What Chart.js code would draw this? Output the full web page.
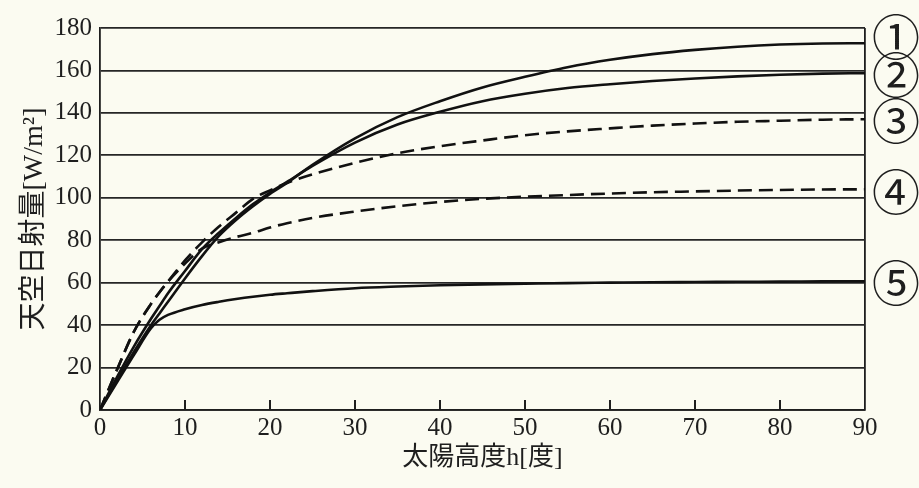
<!DOCTYPE html>
<html>
<head>
<meta charset="utf-8">
<script src="https://cdn.jsdelivr.net/npm/chart.js@4"></script>
<style>
  html, body { margin: 0; padding: 0; background: #fbfbf1; }
  #wrap { width: 919px; height: 488px; position: relative; }
</style>
</head>
<body>
<div id="wrap"><canvas id="sky-chart"></canvas></div>
<script>
// 太陽高度 [度]
var altitude = [0, 2, 4, 6, 7, 8, 10, 12, 14, 16, 18, 20, 22, 25, 30, 35, 40, 45, 50, 55, 60, 65, 70, 75, 80, 85, 90];

// 天空日射量 [W/m2]
var curve1 = [0, 14, 27.5, 40, 45.5, 51, 62, 72.5, 82, 89.5, 96, 101.8, 107, 115.5, 128, 138, 145.5, 152, 157, 161.5, 165, 167.7, 169.7, 171.2, 172.2, 172.7, 172.8];
var curve2 = [0, 15.5, 30, 43, 49, 55, 65.5, 75.8, 83.5, 90.5, 97, 102.5, 107.5, 115, 126, 134.5, 140.5, 145.5, 149, 151.7, 153.5, 155, 156.2, 157.2, 158, 158.5, 158.7];
var curve3 = [0, 19, 37, 50, 55.5, 60.5, 70.5, 79, 86.5, 93, 99.5, 103.5, 107, 111, 116.5, 121, 124.3, 127, 129.5, 131.3, 132.7, 134, 135, 135.8, 136.3, 136.8, 137];
var curve4 = [0, 19, 37, 50, 55.5, 60.5, 69, 76, 79, 81.5, 83.5, 86, 88, 90.5, 93.5, 96, 98, 99.5, 100.5, 101.3, 102, 102.6, 103, 103.4, 103.7, 103.9, 104];
var curve5 = [0, 13, 26, 38.5, 42.5, 44.8, 47.5, 49.5, 51, 52.3, 53.4, 54.3, 55, 56, 57.4, 58.2, 58.8, 59.2, 59.5, 59.8, 60, 60.2, 60.3, 60.4, 60.5, 60.6, 60.7];

// 曲線の番号
var curveNames = ['①', '②', '③', '④', '⑤'];
var xTicks = [0, 10, 20, 30, 40, 50, 60, 70, 80, 90];
var yTicks = [0, 20, 40, 60, 80, 100, 120, 140, 160, 180];

var ink = '#1e1e1e';
var serif = '"Liberation Serif", "Noto Sans CJK JP", serif';

var toPoints = function(values) {
    return values.map(function(v, i) { return { x: altitude[i], y: v }; });
};

var series = [curve1, curve2, curve3, curve4, curve5];
var dashed = [false, false, true, true, false];

var dataSet = [];
for (var i = 0; i < series.length; i++) {
    dataSet.push({
        label: curveNames[i],
        data: toPoints(series[i]),
        borderColor: '#111',
        borderWidth: 2.6,
        borderDash: dashed[i] ? [14, 7] : [],
        pointRadius: 0,
        fill: false,
        cubicInterpolationMode: 'monotone'
    });
}

// 背景
var paper = {
    id: 'paper',
    beforeDraw: function(chart) {
        var ctx = chart.ctx;
        ctx.save();
        ctx.fillStyle = '#fbfbf1';
        ctx.fillRect(0, 0, chart.width, chart.height);
        ctx.restore();
    }
};

// 横軸の内向き目盛りと右側の番号
var marks = {
    id: 'marks',
    afterDraw: function(chart) {
        var ctx = chart.ctx;
        var xs = chart.scales.x;
        var ys = chart.scales.y;
        var area = chart.chartArea;
        ctx.save();
        ctx.strokeStyle = ink;
        ctx.lineWidth = 2;
        xTicks.forEach(function(t) {
            if (t === 0 || t === 90) return;
            var px = xs.getPixelForValue(t);
            ctx.beginPath();
            ctx.moveTo(px, area.bottom);
            ctx.lineTo(px, area.bottom - 10);
            ctx.stroke();
        });

        // 番号の位置（重ならないように上へずらす）
        var pos = series.map(function(s) { return ys.getPixelForValue(s[s.length - 1]); });
        for (var k = pos.length - 2; k >= 0; k--) {
            pos[k] = Math.min(pos[k], pos[k + 1] - 38);
        }
        ctx.fillStyle = ink;
        ctx.font = '48px "Noto Sans CJK JP"';
        ctx.textAlign = 'center';
        ctx.textBaseline = 'middle';
        for (var j = 0; j < curveNames.length; j++) {
            ctx.fillText(curveNames[j], area.right + 31, pos[j] + 2);
        }
        ctx.restore();
    }
};

var canvas = document.getElementById('sky-chart').getContext('2d');
new Chart(canvas, {
    type: 'line',
    data: { datasets: dataSet },
    options: {
        responsive: true,
        maintainAspectRatio: false,
        devicePixelRatio: 1,
        animation: false,
        layout: { padding: { left: 10, right: 54, top: 28, bottom: 8 } },
        plugins: {
            legend: { display: false },
            tooltip: { enabled: false }
        },
        scales: {
            x: {
                type: 'linear',
                min: 0,
                max: 90,
                afterBuildTicks: function(s) { s.ticks = xTicks.map(function(v) { return { value: v }; }); },
                afterFit: function(s) { s.height = 70; },
                ticks: { color: ink, font: { family: serif, size: 25 }, padding: 3, maxRotation: 0 },
                grid: {
                    drawTicks: false,
                    lineWidth: 1.8,
                    color: function(c) { return c.tick && c.tick.value === 90 ? ink : 'rgba(0,0,0,0)'; }
                },
                border: { display: true, color: ink, width: 1.8 },
                title: {
                    display: true,
                    text: '太陽高度h[度]',
                    color: ink,
                    font: { family: serif, size: 26 },
                    padding: { top: 0, bottom: 6 }
                }
            },
            y: {
                min: 0,
                max: 180,
                afterBuildTicks: function(s) { s.ticks = yTicks.map(function(v) { return { value: v }; }); },
                afterFit: function(s) { s.width = 90; },
                ticks: { color: ink, font: { family: serif, size: 25 }, padding: 8 },
                grid: { drawTicks: false, color: '#262626', lineWidth: 1.7 },
                border: { display: true, color: ink, width: 1.8 },
                title: {
                    display: true,
                    text: '天空日射量[W/m²]',
                    color: ink,
                    font: { family: serif, size: 28 },
                    padding: { top: 8, bottom: 0 }
                }
            }
        }
    },
    plugins: [paper, marks]
});
</script>
</body>
</html>
